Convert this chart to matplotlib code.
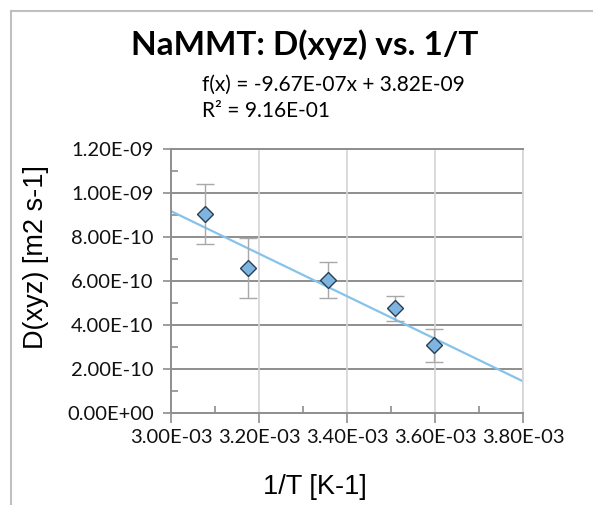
import numpy as np
import matplotlib
matplotlib.use("Agg")
import matplotlib.pyplot as plt
from matplotlib.lines import Line2D
from matplotlib.ticker import FuncFormatter, MultipleLocator

# diffusion coefficient vs inverse temperature
inv_T = [3.077e-3, 3.175e-3, 3.356e-3, 3.509e-3, 3.597e-3]
D = [9.06e-10, 6.59e-10, 6.06e-10, 4.77e-10, 3.10e-10]
D_err = [1.38e-10, 1.36e-10, 0.83e-10, 0.58e-10, 0.75e-10]

# linear trend line coefficients
slope = -9.67e-07
intercept = 3.82e-09
r2 = 9.16e-01

x_ticks = [3.0e-3, 3.2e-3, 3.4e-3, 3.6e-3, 3.8e-3]
y_ticks = [0.0, 2e-10, 4e-10, 6e-10, 8e-10, 1.0e-9, 1.2e-9]

calibri = ['Lato', 'DejaVu Sans']
arial = ['Liberation Sans', 'DejaVu Sans']

W, H = 593, 505
fig = plt.figure(figsize=(W / 100, H / 100), dpi=100)
ax = fig.add_axes([171 / W, 1 - 413.3 / H, 352 / W, 264 / H])

ax.set_xlim(x_ticks[0], x_ticks[-1])
ax.set_ylim(y_ticks[0], y_ticks[-1])

# gridlines: dark horizontal, pale vertical
for y in y_ticks[1:]:
    ax.axhline(y, color='#8e8e8e', lw=1.4, zorder=1)
for x in x_ticks[1:]:
    ax.axvline(x, color='#d4d4d4', lw=1.2, zorder=1)

xs = np.array([x_ticks[0], x_ticks[-1]])
ax.plot(xs, slope * xs + intercept, color='#86c3ea', lw=1.6, zorder=2)

ax.errorbar(inv_T, D, yerr=D_err, fmt='none', ecolor='#a8a8a8',
            elinewidth=1.0, capsize=6.5, capthick=1.0, zorder=3)
ax.plot(inv_T, D, linestyle='none', marker='D', markersize=8.5,
        markerfacecolor='#7db4e0', markeredgecolor='#2a3f55',
        markeredgewidth=1.0, zorder=4)

for side in ['left', 'bottom', 'top']:
    ax.spines[side].set_color('#8e8e8e')
    ax.spines[side].set_linewidth(1.4)
ax.spines['right'].set_color('#d4d4d4')
ax.spines['right'].set_linewidth(1.2)

ax.set_xticks(x_ticks)
ax.set_yticks(y_ticks)
ax.xaxis.set_minor_locator(MultipleLocator(1e-4))
ax.yaxis.set_minor_locator(MultipleLocator(1e-10))
fmt = FuncFormatter(lambda v, pos: f"{v:.2E}")
ax.xaxis.set_major_formatter(fmt)
ax.yaxis.set_major_formatter(fmt)
ax.xaxis.get_offset_text().set_visible(False)
ax.yaxis.get_offset_text().set_visible(False)

ax.tick_params(axis='x', which='major', direction='out', length=7.5,
               width=1.2, color='#8e8e8e', pad=4)
ax.tick_params(axis='x', which='minor', direction='in', length=5,
               width=1.2, color='#8e8e8e')
ax.tick_params(axis='y', which='major', direction='out', length=6,
               width=1.2, color='#8e8e8e', pad=6.5)
ax.tick_params(axis='y', which='minor', direction='in', length=5,
               width=1.2, color='#8e8e8e')
for lab in ax.get_xticklabels() + ax.get_yticklabels():
    lab.set_family(calibri)
    lab.set_fontsize(14.5)
    lab.set_color('#111111')

ax.set_xlabel('1/T [K-1]', family=arial, fontsize=19.5)
ax.xaxis.label.set_va('center')
ax.xaxis.set_label_coords((315 - 171) / 352, (413.3 - 487) / 264)
ax.set_ylabel('D(xyz) [m2 s-1]', family=arial, fontsize=19.5)
ax.yaxis.label.set_va('center')
ax.yaxis.set_label_coords((36 - 171) / 352, (413.3 - 257) / 264)

fig.text(305 / W, 1 - 45 / H, 'NaMMT: D(xyz) vs. 1/T', family=calibri,
         fontsize=24, fontweight='bold', ha='center', va='center')
fig.text(202 / W, 1 - 85 / H,
         f'f(x) = {slope:.2E}x + {intercept:.2E}', family=calibri,
         fontsize=15, ha='left', va='center')
fig.text(202 / W, 1 - 111 / H, f'R\u00b2 = {r2:.2E}', family=calibri,
         fontsize=15, ha='left', va='center')

# frame edges around the chart area
fig.add_artist(Line2D([11 / W, 1], [1 - 10.7 / H] * 2,
                      transform=fig.transFigure, color='#c0c0c0', lw=1.5))
fig.add_artist(Line2D([11 / W] * 2, [0, 1 - 10.7 / H],
                      transform=fig.transFigure, color='#c0c0c0', lw=1.5))

fig.savefig('out.png', dpi=100)
